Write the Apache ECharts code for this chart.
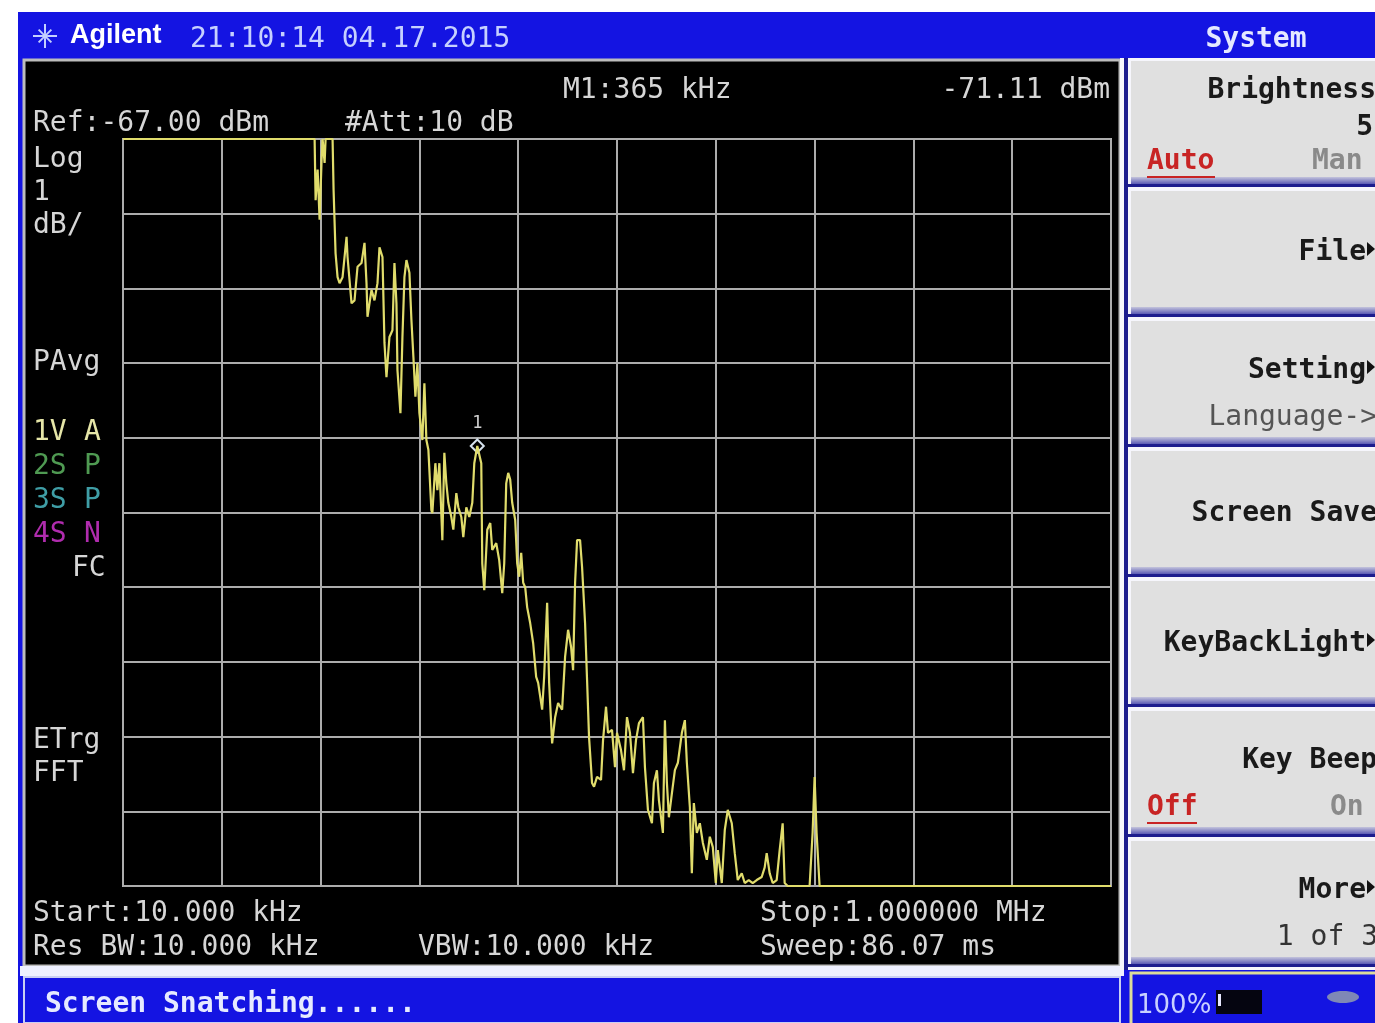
<!DOCTYPE html>
<html>
<head>
<meta charset="utf-8">
<script src="https://cdn.jsdelivr.net/npm/echarts@6/dist/echarts.min.js"></script>
<style>
  html, body { margin: 0; padding: 0; background: #ffffff; }
  #screen { width: 1375px; height: 1023px; }
</style>
</head>
<body>
<div id="screen"></div>
<script>
// Sweep settings
const startKHz = 10;
const stopKHz = 1000;
const refLevel = -67;      // dBm, top graticule line
const dbPerDiv = 1;
const divisions = 10;
const marker = { freq: 365, level: -71.11 };

// Trace 1 (positive average), frequency in kHz
const freqKHz = [
  10, 202, 203, 205, 207, 209, 210, 212, 213, 220,
  221, 223, 225, 227, 230, 234, 235, 239, 242, 245,
  249, 252, 254, 255, 259, 262, 265, 267, 270, 272,
  274, 277, 280, 282, 284, 285, 288, 290, 292, 294,
  297, 299, 301, 303, 305, 307, 310, 312, 314, 316,
  319, 320, 323, 325, 327, 330, 332, 334, 336, 339,
  341, 344, 346, 349, 351, 354, 357, 360, 362, 365,
  369, 370, 372, 375, 378, 380, 384, 387, 390, 392,
  394, 396, 398, 400, 403, 405, 407, 409, 411, 413,
  415, 418, 421, 424, 426, 430, 432, 435, 437, 440,
  443, 446, 450, 453, 456, 459, 461, 463, 465, 468,
  470, 473, 475, 477, 480, 482, 485, 489, 491, 494,
  496, 500, 503, 505, 509, 512, 515, 518, 521, 524,
  527, 531, 533, 536, 540, 542, 545, 547, 551, 553,
  555, 557, 560, 563, 566, 570, 573, 575, 578, 580,
  582, 585, 588, 591, 595, 598, 601, 604, 606, 610,
  613, 616, 620, 623, 626, 630, 633, 637, 641, 645,
  650, 653, 655, 658, 661, 665, 668, 671, 673, 676,
  698, 701, 703, 705, 708, 1000
];

// Trace 1 level in dBm (values above the reference are held at the top line)
const levelDbm = [
  -67.00, -67.00, -67.82, -67.41, -68.08, -67.28, -67.00, -67.32, -67.00, -67.00,
  -67.68, -68.53, -68.85, -68.93, -68.85, -68.31, -68.58, -69.20, -69.16, -68.71,
  -68.66, -68.39, -68.93, -69.38, -69.02, -69.16, -68.93, -68.45, -68.58, -69.73,
  -70.19, -69.65, -69.56, -68.66, -69.20, -70.09, -70.67, -69.65, -68.85, -68.62,
  -68.79, -69.42, -69.92, -70.45, -70.00, -70.67, -71.03, -70.27, -71.03, -71.16,
  -71.97, -72.01, -71.34, -71.70, -71.34, -72.37, -71.20, -71.61, -71.87, -72.06,
  -72.23, -71.74, -71.93, -72.06, -72.33, -71.93, -72.06, -71.87, -71.34, -71.11,
  -71.34, -72.68, -73.04, -72.23, -72.14, -72.50, -72.41, -72.64, -73.08, -72.68,
  -71.61, -71.47, -71.56, -71.87, -72.10, -72.68, -72.86, -72.54, -72.94, -73.00,
  -73.27, -73.48, -73.75, -74.20, -74.28, -74.64, -74.20, -73.21, -74.28, -75.09,
  -74.74, -74.55, -74.64, -73.93, -73.57, -73.80, -74.11, -72.94, -72.37, -72.37,
  -72.73, -73.48, -74.24, -75.01, -75.62, -75.67, -75.54, -75.58, -75.05, -74.60,
  -74.95, -74.91, -75.41, -74.95, -75.18, -75.45, -74.74, -74.95, -75.49, -75.05,
  -74.82, -74.74, -75.41, -75.98, -76.16, -75.62, -75.45, -75.85, -76.29, -74.78,
  -75.62, -76.08, -75.76, -75.45, -75.35, -74.95, -74.78, -75.35, -75.94, -76.83,
  -75.89, -76.29, -76.16, -76.42, -76.65, -76.34, -76.48, -76.96, -76.52, -76.96,
  -76.25, -75.98, -76.16, -76.56, -76.92, -76.83, -76.96, -76.92, -76.96, -76.92,
  -76.88, -76.75, -76.56, -76.83, -76.96, -76.92, -76.52, -76.16, -76.96, -77.00,
  -77.00, -76.29, -75.54, -76.29, -77.00, -77.00
];

// Trace detector legend rows: [trace, mode, colour]
const traceRows = [
  ['1V', 'A', '#e6e6a8'],
  ['2S', 'P', '#4f9a52'],
  ['3S', 'P', '#3f9ea6'],
  ['4S', 'N', '#b02cae']
];

// Soft-key menu labels
const softKeys = ['Brightness', 'File', 'Setting', 'Screen Save', 'KeyBackLight', 'Key Beep', 'More'];

const MONO = '"DejaVu Sans Mono", monospace';
const FRAME_BLUE = '#1414e2';
const SCREEN_TEXT = '#d6d6d6';
const TEXT_DY = 3;   // caps sit above the em-box centre; nudge text down

function txt(x, y, s, fill, font, align, z) {
  return {
    type: 'text', x: x, y: y + TEXT_DY, z: z || 20,
    style: {
      text: s, fill: fill, font: font,
      textAlign: align || 'left', textVerticalAlign: 'middle'
    }
  };
}
function rect(x, y, w, h, fill, z, stroke, lw) {
  const r = { type: 'rect', z: z === undefined ? -5 : z, shape: { x: x, y: y, width: w, height: h }, style: { fill: fill } };
  if (stroke) { r.style.stroke = stroke; r.style.lineWidth = lw || 1; }
  return r;
}
function tri(xr, yc) {
  return { type: 'polygon', z: 20, shape: { points: [[xr - 8, yc - 7], [xr, yc], [xr - 8, yc + 7]] }, style: { fill: '#111111' } };
}

const g = [];

// Instrument frame and header bar
g.push(rect(18, 12, 1357, 1011, FRAME_BLUE, -10));
// Agilent spark logo
const lc = [45, 36];
for (let k = 0; k < 8; k++) {
  const a = k * Math.PI / 4;
  const len = (k % 2 === 0) ? 12 : 9;
  g.push({ type: 'line', z: 20, shape: { x1: lc[0] + Math.cos(a) * 3, y1: lc[1] + Math.sin(a) * 3, x2: lc[0] + Math.cos(a) * len, y2: lc[1] + Math.sin(a) * len }, style: { stroke: '#c4d0ff', lineWidth: 2 } });
}
g.push({ type: 'circle', z: 20, shape: { cx: lc[0], cy: lc[1], r: 3 }, style: { fill: '#c4d0ff' } });
g.push(txt(70, 33, 'Agilent', '#ffffff', 'bold 27px "Liberation Sans", Arial, sans-serif'));
g.push(txt(190, 37, '21:10:14 04.17.2015', '#c6d0ff', '28px ' + MONO));
g.push(txt(1256, 37, 'System', '#e4e8ff', 'bold 28px ' + MONO, 'center'));

// Measurement screen
g.push(rect(24, 60, 1096, 906, '#000000', -6, '#bdbdbd', 3));

// Status line
g.push(rect(20, 966, 1104, 10, '#eef0ff', -6));
g.push(rect(24, 977, 1096, 46, FRAME_BLUE, -6, '#c9cff2', 2));
g.push(txt(45, 1002, 'Screen Snatching......', '#e6eaff', 'bold 28px ' + MONO));

// Annotation on the screen
g.push(txt(33, 121, 'Ref:' + refLevel.toFixed(2) + ' dBm', SCREEN_TEXT, '28px ' + MONO));
g.push(txt(345, 121, '#Att:10 dB', SCREEN_TEXT, '28px ' + MONO));
g.push(txt(563, 88, 'M1:' + marker.freq + ' kHz', SCREEN_TEXT, '28px ' + MONO));
g.push(txt(1110, 88, marker.level.toFixed(2) + ' dBm', SCREEN_TEXT, '28px ' + MONO, 'right'));
g.push(txt(33, 157, 'Log', SCREEN_TEXT, '28px ' + MONO));
g.push(txt(33, 190, String(dbPerDiv), SCREEN_TEXT, '28px ' + MONO));
g.push(txt(33, 223, 'dB/', SCREEN_TEXT, '28px ' + MONO));
g.push(txt(33, 360, 'PAvg', SCREEN_TEXT, '28px ' + MONO));
traceRows.forEach(function (r, i) {
  const y = 430 + i * 34;
  g.push(txt(33, y, r[0], r[2], '28px ' + MONO));
  g.push(txt(84, y, r[1], r[2], '28px ' + MONO));
});
g.push(txt(72, 566, 'FC', SCREEN_TEXT, '28px ' + MONO));
g.push(txt(33, 738, 'ETrg', SCREEN_TEXT, '28px ' + MONO));
g.push(txt(33, 771, 'FFT', SCREEN_TEXT, '28px ' + MONO));
g.push(txt(33, 911, 'Start:' + startKHz.toFixed(3) + ' kHz', SCREEN_TEXT, '28px ' + MONO));
g.push(txt(33, 945, 'Res BW:10.000 kHz', SCREEN_TEXT, '28px ' + MONO));
g.push(txt(418, 945, 'VBW:10.000 kHz', SCREEN_TEXT, '28px ' + MONO));
g.push(txt(760, 911, 'Stop:' + (stopKHz / 1000).toFixed(6) + ' MHz', SCREEN_TEXT, '28px ' + MONO));
g.push(txt(760, 945, 'Sweep:86.07 ms', SCREEN_TEXT, '28px ' + MONO));

// Soft-key panel
g.push(rect(1120, 58, 255, 912, '#f6f6fc', -6));
g.push(rect(1124, 58, 4, 912, '#1c1c8e', -4));
const KEY_FONT = 'bold 28px ' + MONO;
for (let i = 0; i < softKeys.length; i++) {
  const top = 58 + 130 * i;
  g.push(rect(1131, top + 3, 244, 118, '#e0e0e0', -4));
  g.push({ type: 'rect', z: -4, shape: { x: 1131, y: top + 119, width: 244, height: 7 },
    style: { fill: new echarts.graphic.LinearGradient(0, 0, 0, 1, [{ offset: 0, color: '#c4c4dc' }, { offset: 1, color: '#5a5ab4' }]) } });
  g.push(rect(1128, top + 126, 247, 3, '#1c1c8e', -4));
}
// Brightness
g.push(txt(1376, 88, softKeys[0], '#1a1a1a', KEY_FONT, 'right'));
g.push(txt(1373, 125, '5', '#1a1a1a', KEY_FONT, 'right'));
g.push(txt(1147, 159, 'Auto', '#c82424', KEY_FONT));
g.push(rect(1147, 176, 68, 2, '#c82424', 20));
g.push(txt(1312, 159, 'Man', '#8a8a8a', KEY_FONT));
// File
g.push(txt(1366, 250, softKeys[1], '#1a1a1a', KEY_FONT, 'right'));
g.push(tri(1375, 249));
// Setting
g.push(txt(1366, 368, softKeys[2], '#1a1a1a', KEY_FONT, 'right'));
g.push(tri(1375, 367));
g.push(txt(1377, 415, 'Language->', '#555555', '28px ' + MONO, 'right'));
// Screen Save
g.push(txt(1377, 511, softKeys[3], '#1a1a1a', KEY_FONT, 'right'));
// KeyBackLight
g.push(txt(1366, 641, softKeys[4], '#1a1a1a', KEY_FONT, 'right'));
g.push(tri(1375, 640));
// Key Beep
g.push(txt(1377, 758, softKeys[5], '#1a1a1a', KEY_FONT, 'right'));
g.push(txt(1147, 805, 'Off', '#c82424', KEY_FONT));
g.push(rect(1147, 822, 50, 2, '#c82424', 20));
g.push(txt(1330, 805, 'On', '#8a8a8a', KEY_FONT));
// More
g.push(txt(1366, 888, softKeys[6], '#1a1a1a', KEY_FONT, 'right'));
g.push(tri(1375, 887));
g.push(txt(1378, 935, '1 of 3', '#333333', '28px ' + MONO, 'right'));

// Battery indicator
g.push(rect(1131, 973, 246, 52, FRAME_BLUE, -4, '#dcdc9a', 3));
g.push(txt(1137, 1003, '100%', '#c8d0ff', '26px "DejaVu Sans", sans-serif'));
g.push(rect(1216, 990, 46, 24, '#050510', 20));
g.push(rect(1218, 994, 3, 12, '#e8e8ff', 21));
g.push({ type: 'ellipse', z: 20, shape: { cx: 1343, cy: 997, rx: 16, ry: 6 }, style: { fill: '#7f88b6' } });

const chart = echarts.init(document.getElementById('screen'), null, { renderer: 'canvas' });

const gridLine = { show: true, lineStyle: { color: '#acacac', width: 2 } };

chart.setOption({
  backgroundColor: '#ffffff',
  animation: false,
  grid: {
    left: 123, top: 139, width: 988, height: 747,
    show: true, borderColor: '#b4b4b4', borderWidth: 2, backgroundColor: 'transparent'
  },
  xAxis: [
    // frequency scale used by the trace
    { type: 'value', min: startKHz, max: stopKHz, show: false },
    // graticule divisions
    {
      type: 'value', min: 0, max: divisions, interval: 1, position: 'bottom',
      axisLine: { show: false }, axisTick: { show: false }, axisLabel: { show: false },
      splitLine: gridLine
    }
  ],
  yAxis: {
    type: 'value', min: refLevel - divisions * dbPerDiv, max: refLevel, interval: dbPerDiv,
    axisLine: { show: false }, axisTick: { show: false }, axisLabel: { show: false },
    splitLine: gridLine
  },
  series: [{
    type: 'line',
    xAxisIndex: 0,
    data: freqKHz.map(function (f, i) { return [f, levelDbm[i]]; }),
    showSymbol: false,
    clip: true,
    z: 5,
    lineStyle: { color: '#e0dc6c', width: 2.2 },
    markPoint: {
      symbol: 'diamond',
      symbolSize: [13, 13],
      itemStyle: { color: '#000000', borderColor: '#d6e2ee', borderWidth: 2 },
      label: { show: true, position: 'top', distance: 6, formatter: '1', color: '#cfcfcf', fontSize: 17, fontFamily: 'DejaVu Sans Mono' },
      data: [{ coord: [marker.freq, marker.level] }]
    }
  }],
  graphic: { elements: g }
});
</script>
</body>
</html>
